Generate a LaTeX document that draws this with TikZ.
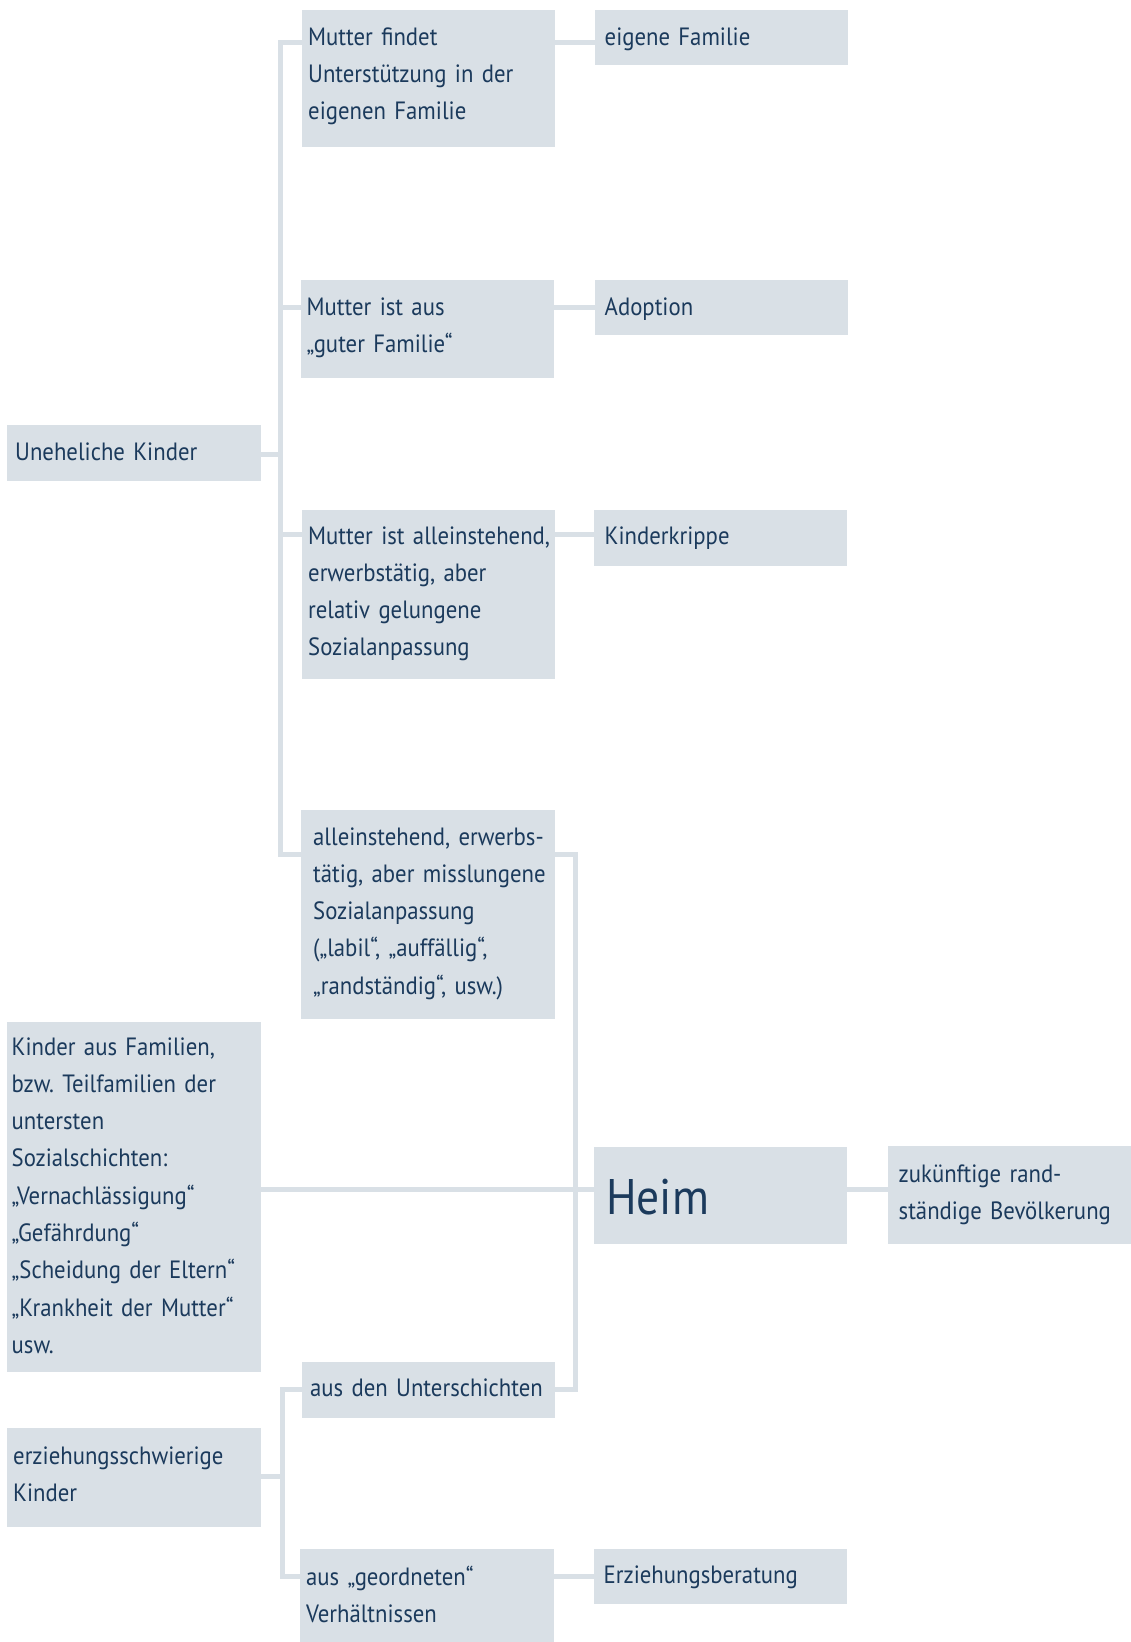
\documentclass[tikz,border=0pt]{standalone}
\usepackage{fontspec}
\setmainfont{PT Sans}[FakeStretch=0.91]
\usetikzlibrary{calc}
\definecolor{boxfill}{HTML}{D9E0E6}
\definecolor{ink}{HTML}{1B3A5C}
\frenchspacing
\begin{document}
\begin{tikzpicture}[x=1pt,y=-1pt,
  box/.style={fill=boxfill, draw=none, inner sep=0pt, outer sep=0pt, anchor=north west},
  txt/.style={inner sep=0pt, anchor=base west, text=ink, font=\fontsize{25}{37.3}\selectfont, align=left, text width=300pt},
  link/.style={draw=boxfill, line width=5pt, line join=miter}]
\useasboundingbox (0,0) rectangle (1131,1642);
% boxes
\node[box, minimum width=253, minimum height=137] (b1) at (302,10) {};
\node[box, minimum width=253, minimum height=55] (b2) at (595,10) {};
\node[box, minimum width=253.5, minimum height=98] (b3) at (300.5,280) {};
\node[box, minimum width=253, minimum height=55] (b4) at (595,280) {};
\node[box, minimum width=254, minimum height=56] (b5) at (7,425) {};
\node[box, minimum width=253, minimum height=169] (b6) at (302,510) {};
\node[box, minimum width=253, minimum height=55.5] (b7) at (594,510) {};
\node[box, minimum width=254, minimum height=209] (b8) at (301,810) {};
\node[box, minimum width=254, minimum height=350] (b9) at (7,1022) {};
\node[box, minimum width=253, minimum height=97] (b10) at (594,1147) {};
\node[box, minimum width=243, minimum height=98] (b11) at (888,1146) {};
\node[box, minimum width=253, minimum height=56] (b12) at (302,1362) {};
\node[box, minimum width=254, minimum height=99] (b13) at (7,1428) {};
\node[box, minimum width=254, minimum height=93] (b14) at (300,1549) {};
\node[box, minimum width=253, minimum height=55] (b15) at (594,1549) {};
% texts
\node[txt] (t1) at ($(b1.north west)+(6,35)$) {Mutter findet\\Unterstützung in der\\eigenen Familie};
\node[txt] (t2) at ($(b2.north west)+(9.5,35)$) {eigene Familie};
\node[txt] (t3) at ($(b3.north west)+(6,35)$) {Mutter ist aus\\„guter Familie“};
\node[txt] (t4) at ($(b4.north west)+(9.5,35)$) {Adoption};
\node[txt] (t5) at ($(b5.north west)+(8,35)$) {Uneheliche Kinder};
\node[txt] (t6) at ($(b6.north west)+(6,34)$) {Mutter ist alleinstehend,\\erwerbstätig, aber\\relativ gelungene\\Sozialanpassung};
\node[txt] (t7) at ($(b7.north west)+(10.5,34)$) {Kinderkrippe};
\node[txt] (t8) at ($(b8.north west)+(12,35)$) {alleinstehend, erwerbs-\\tätig, aber misslungene\\Sozialanpassung\\(„labil“, „auffällig“,\\„randständig“, usw.)};
\node[txt] (t9) at ($(b9.north west)+(4.5,33)$) {Kinder aus Familien,\\bzw. Teilfamilien der\\untersten\\Sozialschichten:\\„Vernachlässigung“\\„Gefährdung“\\„Scheidung der Eltern“\\„Krankheit der Mutter“\\usw.};
\node[inner sep=0pt, anchor=base west, text=ink, font=\fontsize{50}{60}\selectfont] (t10) at ($(b10.north west)+(12,67)$) {Heim};
\node[txt] (t11) at ($(b11.north west)+(10.5,36)$) {zukünftige rand-\\ständige Bevölkerung};
\node[txt] (t12) at ($(b12.north west)+(8,34)$) {aus den Unterschichten};
\node[txt] (t13) at ($(b13.north west)+(6,36)$) {erziehungsschwierige\\Kinder};
\node[txt] (t14) at ($(b14.north west)+(6,36)$) {aus „geordneten“\\Verhältnissen};
\node[txt] (t15) at ($(b15.north west)+(9.5,34)$) {Erziehungsberatung};
% connectors
\draw[link] ($(b1.north west)+(0,32)$) -| ($(b8.north west)+(-21,44)$) -- ($(b8.north west)+(0,44)$);
\draw[link] ($(b1.north east)+(0,32)$) -- ($(b2.north west)+(0,32)$);
\draw[link] ($(b3.north west)+(0,27)$) -- ++(-20.5,0);
\draw[link] ($(b3.north east)+(0,27)$) -- ($(b4.north west)+(0,27)$);
\draw[link] ($(b5.north east)+(0,29)$) -- ++(19,0);
\draw[link] ($(b6.north west)+(0,24)$) -- ++(-22,0);
\draw[link] ($(b6.north east)+(0,24)$) -- ($(b7.north west)+(0,24)$);
\draw[link] ($(b8.north east)+(0,44)$) -| ($(b12.north east)+(20,27)$) -- ($(b12.north east)+(0,27)$);
\coordinate (hy) at ($(b10.north west)+(0,42)$);
\draw[link] (b9.east |- hy) -- (hy);
\draw[link] (hy -| b10.east) -- (hy -| b11.west);
\draw[link] ($(b12.north west)+(0,27)$) -| ($(b14.north west)+(-18,27)$) -- ($(b14.north west)+(0,27)$);
\draw[link] ($(b13.north east)+(0,48)$) -- ++(21,0);
\draw[link] ($(b14.north east)+(0,27)$) -- ($(b15.north west)+(0,27)$);
\end{tikzpicture}
\end{document}
